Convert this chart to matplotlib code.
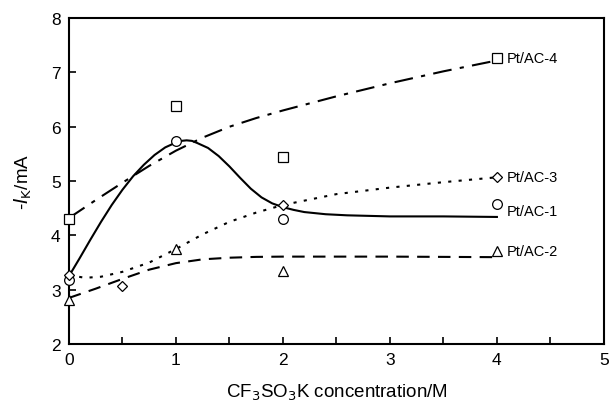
import numpy as np
import matplotlib.pyplot as plt
from matplotlib.ticker import MultipleLocator

plt.rcParams['font.family'] = ['Liberation Sans', 'DejaVu Sans']

# measured points
x4 = [0, 1, 2, 4]
y4 = [4.30, 6.38, 5.44, 7.26]
x1 = [0, 1, 2, 4]
y1 = [3.18, 5.74, 4.30, 4.58]
x3 = [0, 0.5, 2, 4]
y3 = [3.27, 3.07, 4.56, 5.07]
x2 = [0, 1, 2, 4]
y2 = [2.81, 3.75, 3.34, 3.71]

# fitted curves
cx4 = [0, 0.25, 0.5, 0.75, 1.0, 1.25, 1.5, 1.75, 2.0, 2.5, 3.0, 3.5, 4.0]
cy4 = [4.32, 4.65, 4.97, 5.28, 5.56, 5.8, 6.0, 6.16, 6.3, 6.56, 6.8, 7.02, 7.22]
cx1 = [0, 0.1, 0.2, 0.3, 0.4, 0.5, 0.6, 0.7, 0.8, 0.9, 1.0, 1.05, 1.1, 1.15, 1.2, 1.3,
       1.4, 1.5, 1.6, 1.7, 1.8, 1.9, 2.0, 2.1, 2.2, 2.4, 2.6, 2.8, 3.0, 3.5, 4.0]
cy1 = [3.25, 3.58, 3.92, 4.25, 4.56, 4.84, 5.09, 5.30, 5.48, 5.62, 5.71, 5.74, 5.75, 5.74, 5.70, 5.61,
       5.46, 5.27, 5.06, 4.86, 4.70, 4.59, 4.52, 4.47, 4.43, 4.39, 4.37, 4.36, 4.35, 4.35, 4.34]
cx3 = [0, 0.15, 0.3, 0.5, 0.75, 1.0, 1.25, 1.5, 1.75, 2.0, 2.5, 3.0, 3.5, 4.0]
cy3 = [3.27, 3.22, 3.24, 3.33, 3.5, 3.75, 4.02, 4.25, 4.42, 4.56, 4.76, 4.88, 4.98, 5.07]
cx2 = [0, 0.25, 0.5, 0.75, 1.0, 1.25, 1.5, 1.75, 2.0, 3.0, 4.0]
cy2 = [2.85, 3.02, 3.2, 3.37, 3.49, 3.56, 3.59, 3.605, 3.61, 3.61, 3.6]

labels = ['Pt/AC-4', 'Pt/AC-3', 'Pt/AC-1', 'Pt/AC-2']
label_y = [7.26, 5.07, 4.45, 3.71]

fig = plt.figure(figsize=(6.1, 4.06), dpi=100)
ax = fig.add_axes([0.113, 0.150, 0.877, 0.803])

lw = 1.5
ax.plot(cx4, cy4, color='black', lw=lw, dashes=[9, 4, 2, 4])
ax.plot(cx1, cy1, color='black', lw=lw, ls='-')
ax.plot(cx3, cy3, color='black', lw=lw, dashes=[1.5, 3.5])
ax.plot(cx2, cy2, color='black', lw=lw, dashes=[6, 4])

mk = dict(ls='none', mfc='white', mec='black', mew=0.9, zorder=5, clip_on=False)
ax.plot(x4, y4, marker='s', ms=6.5, **mk)
ax.plot(x1, y1, marker='o', ms=7, **mk)
ax.plot(x3, y3, marker='D', ms=5, **mk)
ax.plot(x2, y2, marker='^', ms=7, **mk)

for t, yy in zip(labels, label_y):
    ax.text(4.09, yy, t, fontsize=10.5, va='center', ha='left')

ax.set_xlim(0, 5)
ax.set_ylim(2, 8)
ax.xaxis.set_major_locator(MultipleLocator(1))
ax.xaxis.set_minor_locator(MultipleLocator(0.5))
ax.yaxis.set_major_locator(MultipleLocator(1))
ax.tick_params(direction='in', length=5, width=1.2, labelsize=12.5, pad=6)
ax.tick_params(which='minor', direction='in', length=5, width=1.2)
for s in ax.spines.values():
    s.set_linewidth(1.5)

ax.set_xlabel(r'CF$_3$SO$_3$K concentration/M', fontsize=13.5, labelpad=10)
ax.set_ylabel(r'-$I_{\rm K}$/mA', fontsize=13.5, labelpad=12)

fig.savefig('out.png', dpi=100)
